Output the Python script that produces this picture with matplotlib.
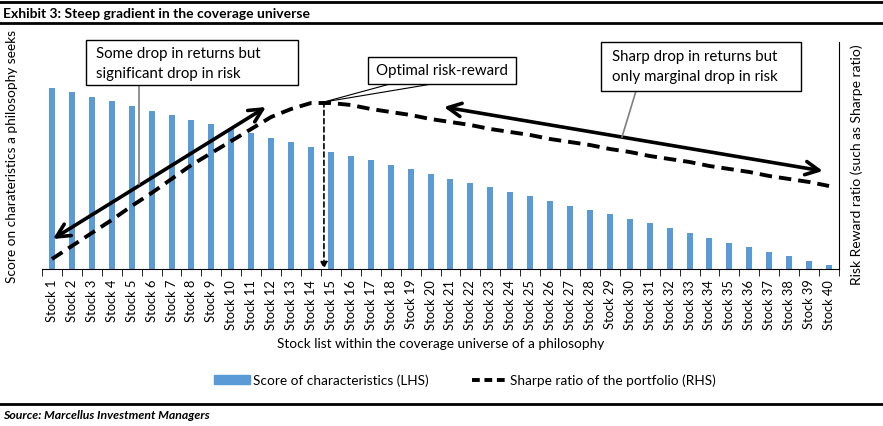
import matplotlib
matplotlib.use("Agg")
import matplotlib.pyplot as plt
import matplotlib.patches as patches
from matplotlib.lines import Line2D
import numpy as np

plt.rcParams["font.family"] = ["Lato", "DejaVu Sans"]

stocks = [f"Stock {i}" for i in range(1, 41)]
scores = [181, 177, 172, 168, 163, 158, 154, 149, 145, 140,
          136, 131, 127, 122, 117, 113, 109, 104, 100, 95,
          90, 86, 82, 77, 73, 68, 63, 59, 55, 50,
          46, 41, 36, 31, 26, 22, 17, 13, 8, 4]
sharpe = [10, 23, 36, 49, 63, 76, 90, 104, 116, 128,
          140, 152, 160, 166, 166, 164, 160, 157, 154, 150,
          147, 144, 140, 137, 134, 130, 127, 124, 120, 117,
          113, 110, 107, 103, 100, 97, 93, 90, 87, 83]

W, H = 883, 427


def fx(px):
    return px / W


def fy(py):
    return 1 - py / H


fig = plt.figure(figsize=(W / 100, H / 100), dpi=100)
ax = fig.add_axes([fx(42), fy(270), fx(839) - fx(42), fy(43) - fy(270)])
ax2 = ax.twinx()

x = np.arange(len(stocks))
ax.bar(x, scores, width=0.3, color="#5B9BD5", zorder=2)
ax2.plot(x, sharpe, color="black", lw=2.8, dashes=(3.2, 1.8), zorder=3)

for a in (ax, ax2):
    a.set_xlim(-0.5, 39.5)
    a.set_ylim(0, 227)
    a.set_yticks([])
    for s in ("top", "left"):
        a.spines[s].set_visible(False)
ax.spines["right"].set_visible(False)
ax2.spines["bottom"].set_visible(False)
ax2.spines["right"].set_color("black")
ax.spines["bottom"].set_color("black")

ax.set_xticks(x)
ax.set_xticklabels(stocks, rotation=90, fontsize=9.3)
ax.tick_params(axis="x", which="major", length=0, pad=7)
ax.set_xticks(np.arange(-0.5, 40, 1), minor=True)
ax.tick_params(axis="x", which="minor", length=5, color="black")

fig.text(fx(441), fy(344), "Stock list within the coverage universe of a philosophy",
         ha="center", va="center", fontsize=9.8)
fig.text(fx(12), fy(157), "Score on charateristics a philosophy seeks",
         rotation=90, ha="center", va="center", fontsize=9.8)
fig.text(fx(857), fy(165), "Risk Reward ratio (such as Sharpe ratio)",
         rotation=90, ha="center", va="center", fontsize=10)

# arrows (data coords of ax)
arrow_kw = dict(arrowstyle="<->", lw=2.6, color="black", mutation_scale=24,
                shrinkA=0, shrinkB=0)
ax.annotate("", xy=(0.05, 30), xytext=(10.74, 162), arrowprops=arrow_kw,
            zorder=5)
ax.annotate("", xy=(19.67, 162), xytext=(38.69, 98), arrowprops=arrow_kw,
            zorder=5)
ax.annotate("", xy=(13.65, 0), xytext=(13.65, 167),
            arrowprops=dict(arrowstyle="-|>", lw=1.2, color="black",
                            linestyle=(0, (3, 2)), mutation_scale=10,
                            shrinkA=0, shrinkB=0), zorder=5)


def box(x0, y0, x1, y1):
    r = patches.Rectangle((fx(x0), fy(y1)), fx(x1) - fx(x0), fy(y0) - fy(y1),
                          transform=fig.transFigure, facecolor="white",
                          edgecolor="black", lw=1.0, zorder=10)
    fig.add_artist(r)


def line(p0, p1, color="black", lw=0.8):
    fig.add_artist(Line2D([fx(p0[0]), fx(p1[0])], [fy(p0[1]), fy(p1[1])],
                          transform=fig.transFigure, color=color, lw=lw,
                          zorder=9))


line((139, 86), (139, 185), color="#7f7f7f", lw=1.2)
line((636, 92), (622, 138), color="#7f7f7f", lw=1.2)
line((390, 85), (324, 103))
line((432, 85), (324, 103))

box(86, 41, 298, 86)
fig.text(fx(96), fy(54), "Some drop in returns but", fontsize=10.8,
         va="center", ha="left", zorder=11)
fig.text(fx(96), fy(74), "significant drop in risk", fontsize=10.8,
         va="center", ha="left", zorder=11)

box(368, 58, 516, 85)
fig.text(fx(442), fy(71), "Optimal risk-reward", fontsize=10.8,
         va="center", ha="center", zorder=11)

box(601, 43, 801, 92)
fig.text(fx(612), fy(57), "Sharp drop in returns but", fontsize=10.8,
         va="center", ha="left", zorder=11)
fig.text(fx(612), fy(77), "only marginal drop in risk", fontsize=10.8,
         va="center", ha="left", zorder=11)

# legend
handles = [patches.Patch(color="#5B9BD5", label="Score of characteristics (LHS)"),
           Line2D([], [], color="black", lw=2.8, dashes=(2, 1.2),
                  label="Sharpe ratio of the portfolio (RHS)")]
fig.legend(handles=handles, loc="center", bbox_to_anchor=(fx(465), fy(381)),
           ncol=2, frameon=False, fontsize=9.8, handlelength=2.6,
           handleheight=0.6, columnspacing=3.2, handletextpad=0.2)

# title and source rules
for yy in (3, 24, 405):
    fig.add_artist(Line2D([0, 1], [fy(yy), fy(yy)], transform=fig.transFigure,
                          color="black", lw=2))
fig.text(fx(3), fy(14), "Exhibit 3: Steep gradient in the coverage universe",
         fontsize=10, fontweight="bold", va="center", ha="left")
fig.text(fx(3), fy(416), "Source: Marcellus Investment Managers",
         fontsize=8.8, fontweight="bold", fontstyle="italic",
         va="center", ha="left")

fig.savefig("out.png", dpi=100)
